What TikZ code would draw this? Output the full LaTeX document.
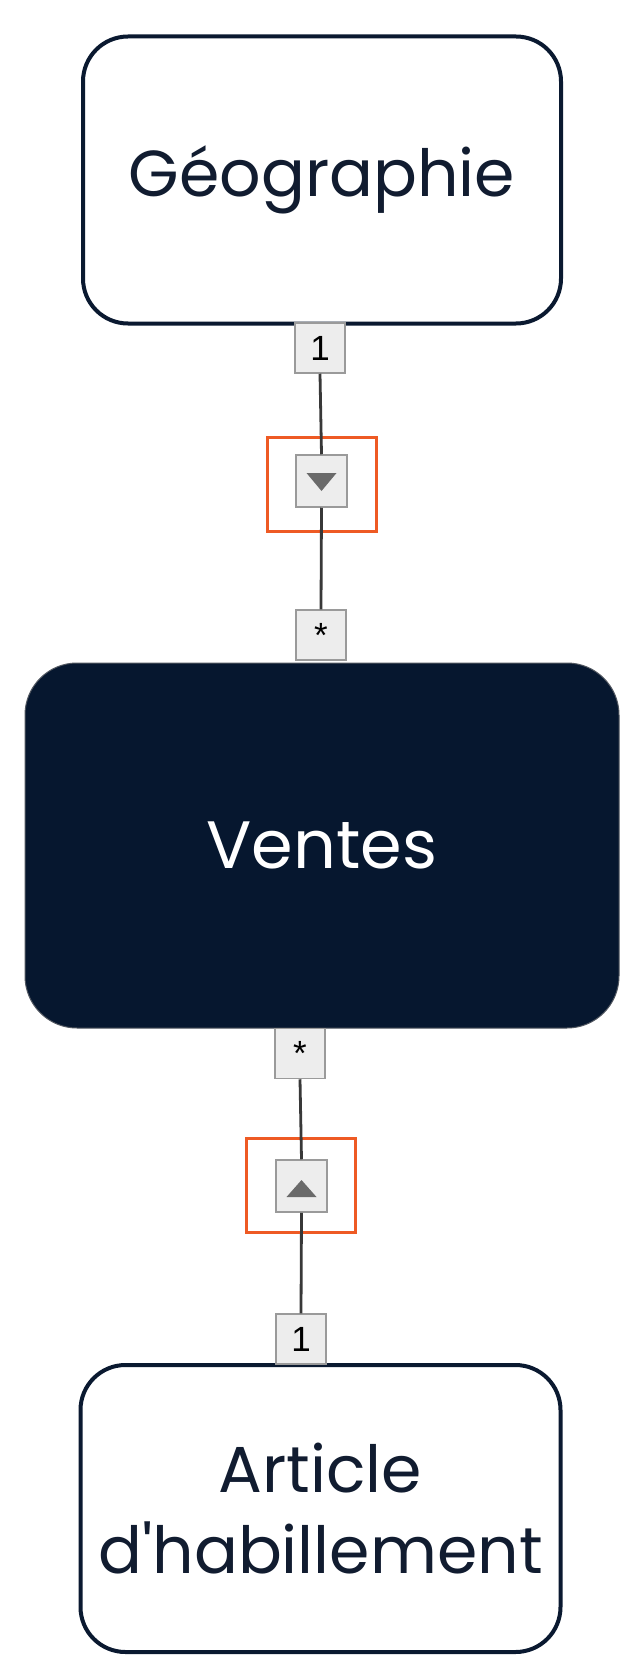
\documentclass[tikz,border=0pt]{standalone}
\usepackage{fontspec}
\setmainfont{Poppins}[Ligatures=TeXOff]
\newfontfamily\labelfont{Liberation Sans}
\definecolor{navy}{HTML}{0A1930}
\definecolor{ventesfill}{HTML}{06172F}
\definecolor{navytext}{HTML}{111C30}
\definecolor{lblfill}{HTML}{EDEDED}
\definecolor{lbldraw}{HTML}{9A9A9A}
\definecolor{tricol}{HTML}{6A6A6A}
\definecolor{wire}{HTML}{383838}
\definecolor{orangeframe}{HTML}{EE5A24}
\begin{document}
\begin{tikzpicture}[x=1pt,y=-1pt,
  entity/.style={draw=navy, line width=4pt, fill=white, rounded corners=45pt,
    text=navytext, font=\fontsize{65}{81}\selectfont, align=center, inner sep=0pt},
  factbox/.style={draw=gray!60!navy, line width=1pt, fill=ventesfill, rounded corners=52pt,
    text=white, font=\fontsize{67}{81}\selectfont, inner sep=0pt},
  lbl/.style={draw=lbldraw, fill=lblfill, line width=1.5pt, inner sep=0pt,
    minimum width=50pt, minimum height=50pt, font=\labelfont\fontsize{35}{35}\selectfont},
  dirbox/.style={draw=lbldraw, fill=lblfill, line width=1.5pt, inner sep=0pt,
    minimum width=51pt, minimum height=52pt},
  frame/.style={draw=orangeframe, line width=3pt, inner sep=0pt,
    minimum width=109pt, minimum height=94pt},
  wireline/.style={draw=wire, line width=2.8pt}
]
\useasboundingbox[fill=white] (0,0) rectangle (638,1680);

% entity boxes
\node[entity, minimum width=478pt, minimum height=287pt] (geo) at (322,180) {Géographie};
\node[factbox, minimum width=594pt, minimum height=365pt] (ventes) at (322,845.5) {Ventes};
\node[entity, minimum width=480pt, minimum height=287pt] (art) at (320.5,1508.5) {Article\\d'habillement};

% top relationship
\node[frame] (gof) at (321.5,484) {};
\node[lbl] (g1) at (320,348) {1};
\node[dirbox] (ga) at (321.5,481) {};
\node[lbl] (gs) at (321,635) {*};
\draw[wireline] (g1.south) -- (ga.north);
\draw[wireline] (ga.south) -- (gs.north);
\fill[tricol] ([xshift=-15pt,yshift=8pt]ga.center) -- ([xshift=15pt,yshift=8pt]ga.center) -- ([yshift=-10pt]ga.center) -- cycle;

% bottom relationship
\node[frame] (aof) at (301,1185.5) {};
\node[lbl] (as) at (300,1053.5) {*};
\node[dirbox] (aa) at (301.5,1186) {};
\node[lbl] (a1) at (301,1339) {1};
\draw[wireline] (as.south) -- (aa.north);
\draw[wireline] (aa.south) -- (a1.north);
\fill[tricol] ([xshift=-15pt,yshift=-11pt]aa.center) -- ([xshift=15pt,yshift=-11pt]aa.center) -- ([yshift=6pt]aa.center) -- cycle;
\end{tikzpicture}
\end{document}
